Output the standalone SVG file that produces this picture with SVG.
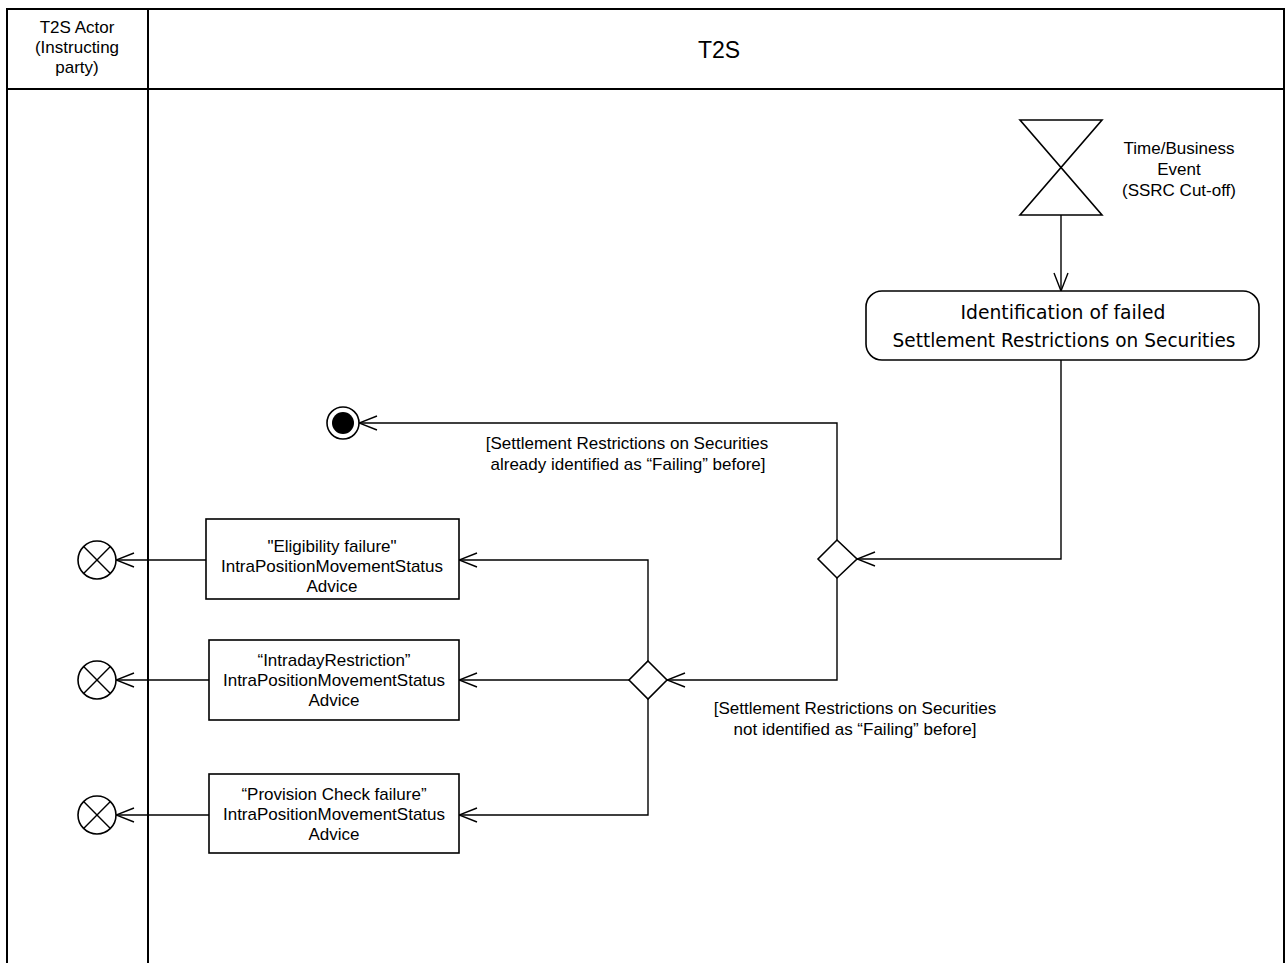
<svg xmlns="http://www.w3.org/2000/svg" width="1287" height="963" viewBox="0 0 1287 963">
  <style>
    .lane { fill: none; stroke: #000; stroke-width: 2; }
    .shape { fill: #fff; stroke: #000; stroke-width: 1.6; }
    .edge { fill: none; stroke: #000; stroke-width: 1.4; marker-end: url(#open); }
    .t { font-family: "Liberation Sans", Arial, sans-serif; font-size: 17px; fill: #000; text-anchor: middle; }
    .act { font-family: "DejaVu Sans", Tahoma, sans-serif; font-size: 19.5px; fill: #000; text-anchor: middle; }
    .hdr { font-family: "Liberation Sans", Arial, sans-serif; font-size: 23px; fill: #000; text-anchor: middle; }
  </style>
  <defs>
    <marker id="open" markerUnits="userSpaceOnUse" viewBox="0 0 20 16" refX="19" refY="8" markerWidth="20" markerHeight="16" orient="auto">
      <path d="M1,1 L19,8 L1,15" fill="none" stroke="#000" stroke-width="1.4"/>
    </marker>
  </defs>

  <rect width="1287" height="963" fill="#fff"/>

  <!-- swimlanes -->
  <g id="lanes">
    <path class="lane" d="M7,963 V9 H1284 V963"/>
    <line class="lane" x1="7" y1="89" x2="1284" y2="89"/>
    <line class="lane" x1="148" y1="9" x2="148" y2="963"/>
    <text class="t" x="77" y="33">T2S Actor</text>
    <text class="t" x="77" y="53">(Instructing</text>
    <text class="t" x="77" y="73">party)</text>
    <text class="hdr" x="719" y="58">T2S</text>
  </g>

  <!-- connectors -->
  <g id="connectors">
    <path class="edge" d="M1061,215 V291"/>
    <path class="edge" d="M1061,360 V559 H857"/>
    <path class="edge" d="M837,540 V423 H359"/>
    <path class="edge" d="M837,578 V680 H667"/>
    <path class="edge" d="M648,661 V560 H459"/>
    <path class="edge" d="M629,680 H459"/>
    <path class="edge" d="M648,699 V815 H459"/>
    <path class="edge" d="M206,560 H116"/>
    <path class="edge" d="M209,680 H116"/>
    <path class="edge" d="M209,815 H116"/>
    <text class="t" x="627" y="449">[Settlement Restrictions on Securities</text>
    <text class="t" x="628" y="470">already identified as “Failing” before]</text>
    <text class="t" x="855" y="714">[Settlement Restrictions on Securities</text>
    <text class="t" x="855" y="735">not identified as “Failing” before]</text>
  </g>

  <!-- time event -->
  <g id="time-event">
    <polygon class="shape" points="1020,120 1102,120 1020,215 1102,215"/>
    <text class="t" x="1179" y="154">Time/Business</text>
    <text class="t" x="1179" y="175">Event</text>
    <text class="t" x="1179" y="196">(SSRC Cut-off)</text>
  </g>

  <g id="identification">
    <rect class="shape" x="866" y="291" width="393" height="69" rx="16"/>
    <text class="act" x="1063" y="319" textLength="205" lengthAdjust="spacingAndGlyphs">Identification of failed</text>
    <text class="act" x="1064" y="347" textLength="343" lengthAdjust="spacingAndGlyphs">Settlement Restrictions on Securities</text>
  </g>

  <g id="decision-1">
    <polygon class="shape" points="837,540 857,559 837,578 818,559"/>
  </g>

  <g id="decision-2">
    <polygon class="shape" points="648,661 667,680 648,699 629,680"/>
  </g>

  <g id="activity-final">
    <circle class="shape" cx="343" cy="423" r="16"/>
    <circle cx="343" cy="423" r="11" fill="#000"/>
  </g>

  <g id="eligibility-advice">
    <rect class="shape" x="206" y="519" width="253" height="80"/>
    <text class="t" x="332" y="552">"Eligibility failure"</text>
    <text class="t" x="332" y="572">IntraPositionMovementStatus</text>
    <text class="t" x="332" y="592">Advice</text>
  </g>

  <g id="intraday-advice">
    <rect class="shape" x="209" y="640" width="250" height="80"/>
    <text class="t" x="334" y="666">“IntradayRestriction”</text>
    <text class="t" x="334" y="686">IntraPositionMovementStatus</text>
    <text class="t" x="334" y="706">Advice</text>
  </g>

  <g id="provision-advice">
    <rect class="shape" x="209" y="774" width="250" height="79"/>
    <text class="t" x="334" y="800">“Provision Check failure”</text>
    <text class="t" x="334" y="820">IntraPositionMovementStatus</text>
    <text class="t" x="334" y="840">Advice</text>
  </g>

  <!-- flow finals -->
  <g id="flow-final-1">
    <circle class="shape" cx="97" cy="560" r="19"/>
    <path d="M83.6,546.6 L110.4,573.4 M110.4,546.6 L83.6,573.4" stroke="#000" stroke-width="1.4"/>
  </g>
  <g id="flow-final-2">
    <circle class="shape" cx="97" cy="680" r="19"/>
    <path d="M83.6,666.6 L110.4,693.4 M110.4,666.6 L83.6,693.4" stroke="#000" stroke-width="1.4"/>
  </g>
  <g id="flow-final-3">
    <circle class="shape" cx="97" cy="815" r="19"/>
    <path d="M83.6,801.6 L110.4,828.4 M110.4,801.6 L83.6,828.4" stroke="#000" stroke-width="1.4"/>
  </g>
</svg>
